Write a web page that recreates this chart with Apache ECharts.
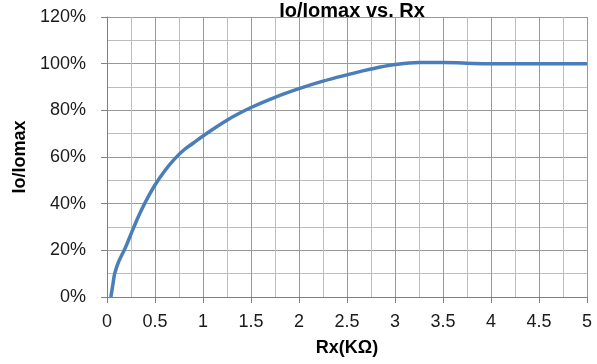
<!DOCTYPE html>
<html>
<head>
<meta charset="utf-8">
<script src="https://cdn.jsdelivr.net/npm/echarts@6/dist/echarts.min.js"></script>
<style>
html, body { margin: 0; padding: 0; background: #fff; }
#chart { width: 597px; height: 364px; }
</style>
</head>
<body>
<div id="chart"></div>
<script>
// Rx (kOhm) and Io/Iomax (%)
var rx = [0.04, 0.06, 0.08, 0.12, 0.19, 0.27, 0.35, 0.43, 0.5, 0.6, 0.7, 0.8, 0.9, 1.0, 1.25, 1.5, 1.75, 2.0, 2.25, 2.5, 2.75, 3.0, 3.25, 3.5, 3.75, 4.0, 4.5, 5.0];
var ratio = [0, 5, 10, 15, 21, 29, 36.5, 43, 48, 54, 59, 63, 66, 69, 75.8, 81.2, 85.6, 89.3, 92.5, 95.2, 97.7, 99.6, 100.5, 100.5, 100.2, 100, 100, 100];

var points = [];
for (var i = 0; i < rx.length; i++) {
    points.push([rx[i], ratio[i] / 100]);
}

var chart = echarts.init(document.getElementById('chart'));

var labelFont = { fontFamily: 'Liberation Sans', fontSize: 18, color: '#1a1a1a' };

var option = {
    backgroundColor: '#fff',
    animation: false,
    title: {
        text: 'Io/Iomax vs. Rx',
        left: 347,
        textAlign: 'center',
        top: -4,
        textStyle: { fontFamily: 'Liberation Sans', fontWeight: 'bold', fontSize: 20, color: '#000' }
    },
    grid: { left: 107, right: 10, top: 17, bottom: 67 },
    xAxis: {
        type: 'value',
        min: 0,
        max: 5,
        interval: 0.5,
        name: 'Rx(KΩ)',
        nameLocation: 'middle',
        nameGap: 42,
        nameTextStyle: { fontFamily: 'Liberation Sans', fontWeight: 'bold', fontSize: 18, color: '#000' },
        axisLine: { lineStyle: { color: '#808080', width: 1 } },
        axisTick: { show: true, length: 6, lineStyle: { color: '#808080' } },
        axisLabel: Object.assign({ margin: 16 }, labelFont),
        splitLine: { show: true, lineStyle: { color: '#999999', width: 1 } },
        minorTick: { show: false, splitNumber: 2 },
        minorSplitLine: { show: true, lineStyle: { color: '#bdbdbd', width: 1 } }
    },
    yAxis: {
        type: 'value',
        min: 0,
        max: 1.2,
        interval: 0.2,
        name: 'Io/Iomax',
        nameLocation: 'middle',
        nameGap: 74,
        nameTextStyle: { fontFamily: 'Liberation Sans', fontWeight: 'bold', fontSize: 18, color: '#000' },
        axisLine: { show: true, lineStyle: { color: '#808080', width: 1 } },
        axisTick: { show: true, length: 6, lineStyle: { color: '#808080' } },
        axisLabel: Object.assign({
            margin: 21,
            formatter: function (v) { return Math.round(v * 100) + '%'; }
        }, labelFont),
        splitLine: { show: true, lineStyle: { color: '#999999', width: 1 } },
        minorTick: { show: false, splitNumber: 2 },
        minorSplitLine: { show: true, lineStyle: { color: '#bdbdbd', width: 1 } }
    },
    series: [{
        type: 'line',
        data: points,
        smooth: 0.4,
        showSymbol: false,
        lineStyle: { color: '#4a7ebb', width: 3.5 }
    }]
};

chart.setOption(option);
</script>
</body>
</html>
